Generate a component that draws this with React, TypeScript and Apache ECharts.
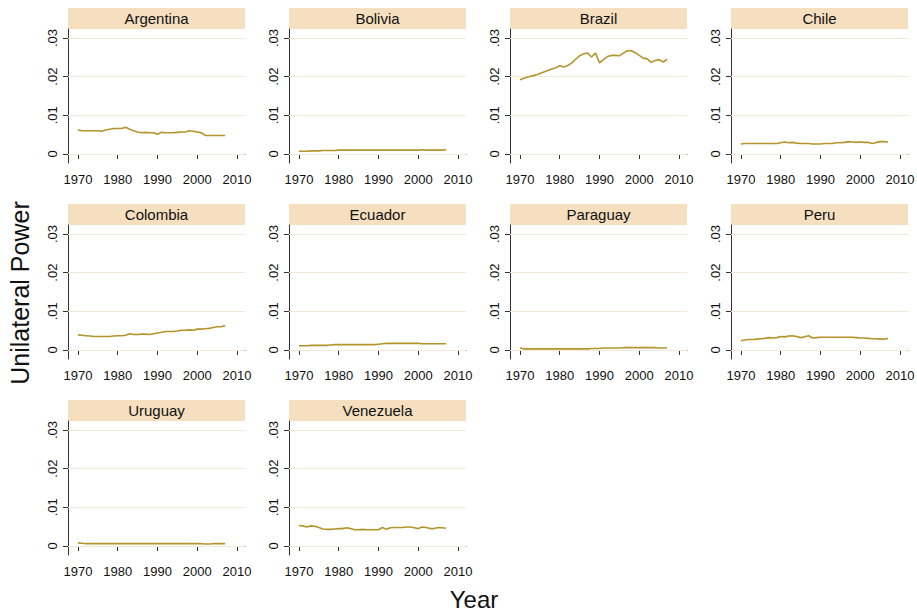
import React, { useEffect, useRef } from "react";
import * as echarts from "echarts";

const years: number[] = [];
for (let y = 1970; y <= 2007; y++) years.push(y);

const countries = ["Argentina", "Bolivia", "Brazil", "Chile", "Colombia", "Ecuador", "Paraguay", "Peru", "Uruguay", "Venezuela"];

const argentina = [.0062, .0060, .0060, .0060, .0060, .0060, .0059, .0062, .0064, .0066, .0066, .0066, .0069, .0064, .0060, .0057, .0055, .0056, .0055, .0055, .0051, .0056, .0055, .0055, .0055, .0056, .0057, .0057, .0060, .0059, .0057, .0055, .0048, .0048, .0048, .0048, .0048, .0048];
const bolivia = [.0007, .0007, .0007, .0008, .0008, .0008, .0009, .0009, .0009, .0009, .0010, .0010, .0010, .0010, .0010, .0010, .0010, .0010, .0010, .0010, .0010, .0010, .0010, .0010, .0010, .0010, .0010, .0010, .0010, .0010, .0010, .0011, .0010, .0010, .0010, .0010, .0010, .0011];
const brazil = [.0192, .0196, .0199, .0202, .0204, .0208, .0212, .0216, .0220, .0223, .0228, .0225, .0229, .0235, .0245, .0254, .0259, .0261, .0251, .0261, .0236, .0244, .0252, .0255, .0255, .0254, .0261, .0267, .0267, .0262, .0255, .0248, .0246, .0237, .0242, .0244, .0238, .0245];
const chile = [.0026, .0027, .0027, .0027, .0027, .0027, .0027, .0027, .0027, .0027, .0029, .0031, .0029, .0030, .0028, .0027, .0027, .0027, .0026, .0026, .0026, .0027, .0027, .0027, .0029, .0029, .0030, .0032, .0031, .0030, .0031, .0030, .0030, .0027, .0030, .0032, .0032, .0031];
const colombia = [.0039, .0038, .0037, .0036, .0035, .0035, .0035, .0035, .0035, .0036, .0037, .0037, .0038, .0042, .0040, .0040, .0041, .0041, .0040, .0042, .0044, .0046, .0048, .0048, .0048, .0049, .0051, .0051, .0052, .0051, .0054, .0054, .0055, .0056, .0058, .0060, .0060, .0063];
const ecuador = [.0011, .0011, .0011, .0012, .0012, .0012, .0012, .0012, .0013, .0014, .0014, .0014, .0014, .0014, .0014, .0014, .0014, .0014, .0014, .0014, .0015, .0016, .0017, .0017, .0017, .0017, .0017, .0017, .0017, .0017, .0017, .0016, .0016, .0016, .0016, .0016, .0016, .0016];
const paraguay = [.0005, .0003, .0003, .0003, .0003, .0003, .0003, .0003, .0003, .0003, .0003, .0003, .0003, .0003, .0003, .0003, .0003, .0003, .0004, .0004, .0004, .0005, .0005, .0005, .0005, .0005, .0006, .0006, .0006, .0006, .0006, .0006, .0006, .0006, .0006, .0005, .0005, .0006];
const peru = [.0024, .0026, .0027, .0027, .0028, .0029, .0030, .0032, .0031, .0032, .0035, .0034, .0036, .0037, .0035, .0032, .0034, .0037, .0031, .0032, .0033, .0033, .0033, .0033, .0033, .0033, .0033, .0033, .0033, .0032, .0031, .0031, .0030, .0029, .0029, .0028, .0028, .0030];
const uruguay = [.0008, .0007, .0006, .0006, .0006, .0006, .0006, .0006, .0006, .0006, .0006, .0006, .0006, .0006, .0006, .0006, .0006, .0006, .0006, .0006, .0006, .0006, .0006, .0006, .0006, .0006, .0006, .0006, .0006, .0006, .0006, .0006, .0005, .0005, .0006, .0006, .0006, .0006];
const venezuela = [.0053, .0052, .0049, .0052, .0051, .0048, .0044, .0043, .0043, .0044, .0045, .0045, .0047, .0045, .0042, .0042, .0043, .0042, .0042, .0042, .0042, .0048, .0043, .0047, .0048, .0048, .0048, .0049, .0049, .0047, .0045, .0049, .0048, .0045, .0045, .0048, .0047, .0046];

const seriesValues = [argentina, bolivia, brazil, chile, colombia, ecuador, paraguay, peru, uruguay, venezuela];

const xTicks = [1970, 1980, 1990, 2000, 2010];
const yTicks = [0, 0.01, 0.02, 0.03];
const yTickLabels = ["0", ".01", ".02", ".03"];

const COLS_X = [68, 289, 510, 731];
const ROWS_TOP = [29, 225, 421];
const W = 177;
const H = 134;
const HEADER_H = 21;
const FONT = "'Liberation Sans', Arial, Helvetica, sans-serif";
const LINE_COLOR = "#b4952c";
const GRID_COLOR = "#f3e7da";
const HEADER_COLOR = "#f5dfbf";

export default function App() {
  const ref = useRef<HTMLDivElement>(null);
  useEffect(() => {
    if (!ref.current) return;
    const chart = echarts.init(ref.current, undefined, { renderer: "svg" });
    const grids: any[] = [];
    const xAxes: any[] = [];
    const yAxes: any[] = [];
    const series: any[] = [];
    const graphics: any[] = [];
    countries.forEach((name, i) => {
      const col = i % 4;
      const row = Math.floor(i / 4);
      const left = COLS_X[col];
      const top = ROWS_TOP[row];
      grids.push({ left, top, width: W, height: H, containLabel: false, outerBoundsMode: "none" });
      xAxes.push({
        type: "value",
        gridIndex: i,
        min: 1967.5,
        max: 2012,
        axisLine: { show: true, lineStyle: { color: "#333", width: 1 } },
        axisTick: { show: true, customValues: xTicks, length: 5, lineStyle: { color: "#333" } },
        axisLabel: {
          show: true,
          customValues: xTicks,
          margin: 10,
          fontSize: 13,
          fontFamily: FONT,
          color: "#111",
          formatter: (v: number) => String(Math.round(v)),
        },
        splitLine: { show: false },
      });
      yAxes.push({
        type: "value",
        gridIndex: i,
        min: -0.00233,
        max: 0.03233,
        axisLine: { show: true, lineStyle: { color: "#333", width: 1 } },
        axisTick: { show: true, customValues: yTicks, length: 5, lineStyle: { color: "#333" } },
        axisLabel: {
          show: true,
          customValues: yTicks,
          rotate: 90,
          margin: 9,
          fontSize: 13,
          fontFamily: FONT,
          color: "#111",
          formatter: (v: number) => {
            const idx = yTicks.findIndex((t) => Math.abs(t - v) < 1e-6);
            return idx >= 0 ? yTickLabels[idx] : "";
          },
        },
        splitLine: { show: false },
      });
      series.push({
        type: "line",
        xAxisIndex: i,
        yAxisIndex: i,
        data: years.map((y, k) => [y, seriesValues[i][k]]),
        symbol: "none",
        lineStyle: { color: LINE_COLOR, width: 1.6 },
        z: 3,
        markLine: {
          silent: true,
          symbol: ["none", "none"],
          label: { show: false },
          lineStyle: { color: GRID_COLOR, width: 1, type: "solid" },
          z: 1,
          data: yTicks.map((t) => ({ yAxis: t })),
        },
      });
      graphics.push({
        type: "rect",
        left: left,
        top: top - HEADER_H,
        shape: { width: W, height: HEADER_H },
        style: { fill: HEADER_COLOR },
        silent: true,
      });
      graphics.push({
        type: "text",
        x: left + W / 2,
        y: top - HEADER_H / 2,
        style: {
          text: name,
          fill: "#111",
          font: `15px ${FONT}`,
          align: "center",
          verticalAlign: "middle",
        },
        silent: true,
      });
    });
    graphics.push({
      type: "text",
      x: 20,
      y: 293,
      rotation: Math.PI / 2,
      style: {
        text: "Unilateral Power",
        fill: "#111",
        font: `25px ${FONT}`,
        align: "center",
        verticalAlign: "middle",
      },
      silent: true,
    });
    graphics.push({
      type: "text",
      x: 474,
      y: 599,
      style: {
        text: "Year",
        fill: "#111",
        font: `24px ${FONT}`,
        align: "center",
        verticalAlign: "middle",
      },
      silent: true,
    });
    chart.setOption({
      animation: false,
      backgroundColor: "#ffffff",
      grid: grids,
      xAxis: xAxes,
      yAxis: yAxes,
      series,
      graphic: graphics,
    });
    return () => chart.dispose();
  }, []);
  return (
    <div
      ref={ref}
      style={{ position: "fixed", left: 0, top: 0, width: 917, height: 612 }}
    />
  );
}
